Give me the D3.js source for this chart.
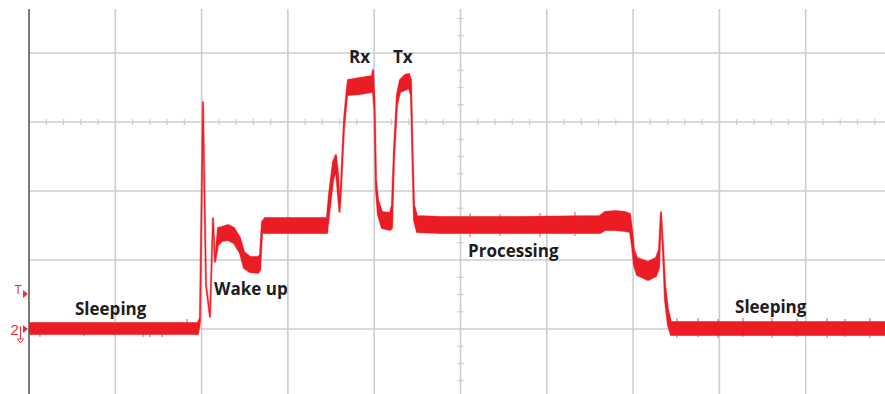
<!DOCTYPE html>
<html>
<head>
<meta charset="utf-8">
<script src="https://cdn.jsdelivr.net/npm/d3@7/dist/d3.min.js"></script>
<style>
  html, body { margin: 0; padding: 0; background: #fff; }
  svg { display: block; }
</style>
</head>
<body>
<svg id="scope" width="885" height="394"></svg>
<script>
// Supply-current trace of a sensor node over one wake cycle.
// Time and amplitude are in screen divisions (10 x 8 graticule, centre at 5 / 0).

// Envelope of the trace: time, upper edge, lower edge
const traceT = [0, 1.958, 1.981, 2.016, 2.051, 2.097, 2.132, 2.155, 2.190, 2.236,
  2.306, 2.375, 2.445, 2.491, 2.561, 2.654, 2.677, 2.700, 2.735, 3.140,
  3.453, 3.476, 3.523, 3.557, 3.581, 3.598, 3.615, 3.650, 3.685, 3.697,
  3.835, 3.975, 3.986, 4.003, 4.021, 4.044, 4.090, 4.183, 4.206, 4.229,
  4.264, 4.299, 4.357, 4.403, 4.426, 4.444, 4.461, 4.496, 4.763, 5.690,
  6.616, 6.674, 6.790, 6.906, 6.964, 6.987, 7.010, 7.045, 7.173, 7.265,
  7.300, 7.323, 7.346, 7.370, 7.404, 7.439, 10.0];
const traceHi = [-2.913, -2.913, -2.841, 0.290, -2.362, -2.826, -1.391, -2.029, -1.536, -1.522,
  -1.493, -1.536, -1.681, -1.884, -1.957, -1.957, -1.928, -1.449, -1.391, -1.391,
  -1.391, -1.058, -0.580, -0.478, -0.768, -1.203, -0.913, 0.029, 0.493, 0.609,
  0.638, 0.667, 0.754, 0.319, -0.841, -1.130, -1.304, -1.319, -1.203, -0.406,
  0.391, 0.609, 0.681, 0.696, 0.609, -0.406, -1.203, -1.362, -1.377, -1.377,
  -1.362, -1.304, -1.290, -1.304, -1.333, -1.565, -1.855, -1.971, -2.029, -1.971,
  -1.855, -1.304, -1.783, -2.362, -2.725, -2.899, -2.899];
const traceLo = [-3.072, -3.072, -2.899, 0.261, -2.362, -2.826, -1.391, -2.029, -1.783, -1.725,
  -1.710, -1.754, -1.899, -2.116, -2.174, -2.188, -2.145, -1.609, -1.609, -1.609,
  -1.609, -1.348, -0.841, -0.696, -1.058, -1.304, -0.986, -0.087, 0.377, 0.391,
  0.406, 0.435, 0.435, 0.174, -0.986, -1.348, -1.536, -1.565, -1.536, -0.551,
  0.246, 0.435, 0.464, 0.493, 0.391, -0.551, -1.420, -1.594, -1.609, -1.609,
  -1.609, -1.565, -1.565, -1.580, -1.594, -1.783, -2.072, -2.217, -2.290, -2.232,
  -2.116, -1.348, -1.855, -2.580, -2.942, -3.087, -3.087];

// Single-sample noise spikes: time, top, bottom
const glitchT = [0.127, 0.637, 1.321, 1.402, 1.541, 1.831, 5.110, 5.458, 5.921, 6.326,
  7.509, 7.752, 7.984, 8.273, 8.610, 8.899, 9.247, 9.455, 9.745];
const glitchHi = [-2.913, -2.913, -2.913, -2.913, -2.913, -2.855, -1.319, -1.333, -1.319, -1.304,
  -2.841, -2.841, -2.855, -2.841, -2.841, -2.855, -2.841, -2.855, -2.841];
const glitchLo = [-3.116, -3.101, -3.116, -3.116, -3.116, -3.072, -1.667, -1.652, -1.667, -1.652,
  -3.130, -3.116, -3.130, -3.116, -3.130, -3.116, -3.130, -3.116, -3.130];

// Phase annotations
const phaseNames = ["Sleeping", "Wake up", "Rx", "Tx", "Processing", "Sleeping"];
const phaseT = [0.533, 2.144, 3.708, 4.218, 5.087, 8.181];
const phaseV = [-2.797, -2.507, 0.855, 0.855, -1.957, -2.768];

// Channel markers at the left edge
const triggerLevel = -2.493;
const groundLevel = -3.0;

const W = 885, H = 394, TOP = 9;
const x = d3.scaleLinear().domain([0, 10]).range([29, 892]);
const y = d3.scaleLinear().domain([0, 1]).range([122, 53]);

const svg = d3.select("#scope");
const RED = "#ec1c24";
const GRID = "#cdcdcd";

const plot = svg.append("g");
svg.append("clipPath").attr("id", "plotClip")
  .append("rect").attr("x", x(0)).attr("y", TOP).attr("width", W - x(0)).attr("height", H - TOP);

// Graticule
const grid = plot.append("g").attr("stroke", GRID).attr("stroke-width", 1.6).attr("fill", "none");
grid.selectAll("line.v").data(d3.range(1, 10)).join("line")
  .attr("class", "v")
  .attr("x1", d => x(d)).attr("x2", d => x(d))
  .attr("y1", TOP).attr("y2", H);
grid.selectAll("line.h").data([1, 0, -1, -2, -3]).join("line")
  .attr("class", "h")
  .attr("x1", x(0)).attr("x2", W)
  .attr("y1", d => y(d)).attr("y2", d => y(d));

// Minor ticks on the centre lines
const ticks = plot.append("g").attr("stroke", GRID).attr("stroke-width", 1.2);
ticks.selectAll("line.tx").data(d3.range(0.2, 10, 0.2).filter(d => Math.abs(d - Math.round(d)) > 0.01)).join("line")
  .attr("class", "tx")
  .attr("x1", d => x(d)).attr("x2", d => x(d))
  .attr("y1", y(0) - 3).attr("y2", y(0) + 3);
ticks.selectAll("line.ty").data(d3.range(-4, 1.75, 0.25).filter(d => Math.abs(d - Math.round(d)) > 0.01)).join("line")
  .attr("class", "ty")
  .attr("x1", x(5) - 3).attr("x2", x(5) + 3)
  .attr("y1", d => y(d)).attr("y2", d => y(d));

// Left edge of the screen
plot.append("line")
  .attr("x1", x(0)).attr("x2", x(0)).attr("y1", TOP).attr("y2", H)
  .attr("stroke", "#5a5a5a").attr("stroke-width", 1.6);

// Trace
const traceData = traceT.map((t, i) => ({ t, hi: traceHi[i], lo: traceLo[i] }));
const area = d3.area()
  .x(d => x(d.t))
  .y0(d => y(d.lo))
  .y1(d => y(d.hi));
const traceG = plot.append("g").attr("clip-path", "url(#plotClip)");
traceG.append("path")
  .datum(traceData)
  .attr("d", area)
  .attr("fill", RED).attr("stroke", RED).attr("stroke-opacity", 0.55)
  .attr("stroke-width", 2.2).attr("stroke-linejoin", "round");
traceG.append("path")
  .datum(traceData)
  .attr("d", area)
  .attr("fill", RED).attr("stroke", RED).attr("stroke-width", 1.1);

traceG.selectAll("line.glitch").data(glitchT).join("line")
  .attr("class", "glitch")
  .attr("x1", d => x(d)).attr("x2", d => x(d))
  .attr("y1", (d, i) => y(glitchHi[i])).attr("y2", (d, i) => y(glitchLo[i]))
  .attr("stroke", RED).attr("stroke-opacity", 0.8).attr("stroke-width", 1);

// Phase labels
svg.append("g").selectAll("text").data(phaseNames).join("text")
  .attr("x", (d, i) => x(phaseT[i]))
  .attr("y", (d, i) => y(phaseV[i]))
  .attr("font-family", "'Open Sans', Lato, sans-serif")
  .attr("font-weight", 700)
  .attr("font-size", 17)
  .attr("fill", "#1c1c22")
  .text(d => d);

// Trigger and channel-2 reference markers
const mk = svg.append("g").attr("fill", "#e8323a").attr("stroke", "none");
mk.append("text").attr("x", 14.5).attr("y", y(triggerLevel) - 0.5)
  .attr("font-family", "Arial, 'Liberation Sans', sans-serif").attr("font-size", 12).text("T");
mk.append("path")
  .attr("d", `M${x(0) - 6},${y(triggerLevel) - 4}L${x(0) - 1},${y(triggerLevel)}L${x(0) - 6},${y(triggerLevel) + 4}Z`);
mk.append("text").attr("x", 10.5).attr("y", y(groundLevel) + 5.5)
  .attr("font-family", "Arial, 'Liberation Sans', sans-serif").attr("font-size", 15).text("2");
mk.append("path")
  .attr("d", `M${x(0) - 6},${y(groundLevel) - 4}L${x(0) - 1},${y(groundLevel)}L${x(0) - 6},${y(groundLevel) + 4}Z`);
const gnd = svg.append("g").attr("stroke", "#e8323a").attr("stroke-width", 1).attr("fill", "none");
gnd.append("line").attr("x1", 20.5).attr("x2", 20.5).attr("y1", y(groundLevel) - 3).attr("y2", y(groundLevel) + 10);
gnd.append("line").attr("x1", 17).attr("x2", 24).attr("y1", y(groundLevel) + 10).attr("y2", y(groundLevel) + 10);
gnd.append("path").attr("d", `M18,${y(groundLevel) + 11}L20.5,${y(groundLevel) + 14}L23,${y(groundLevel) + 11}`);
</script>
</body>
</html>
